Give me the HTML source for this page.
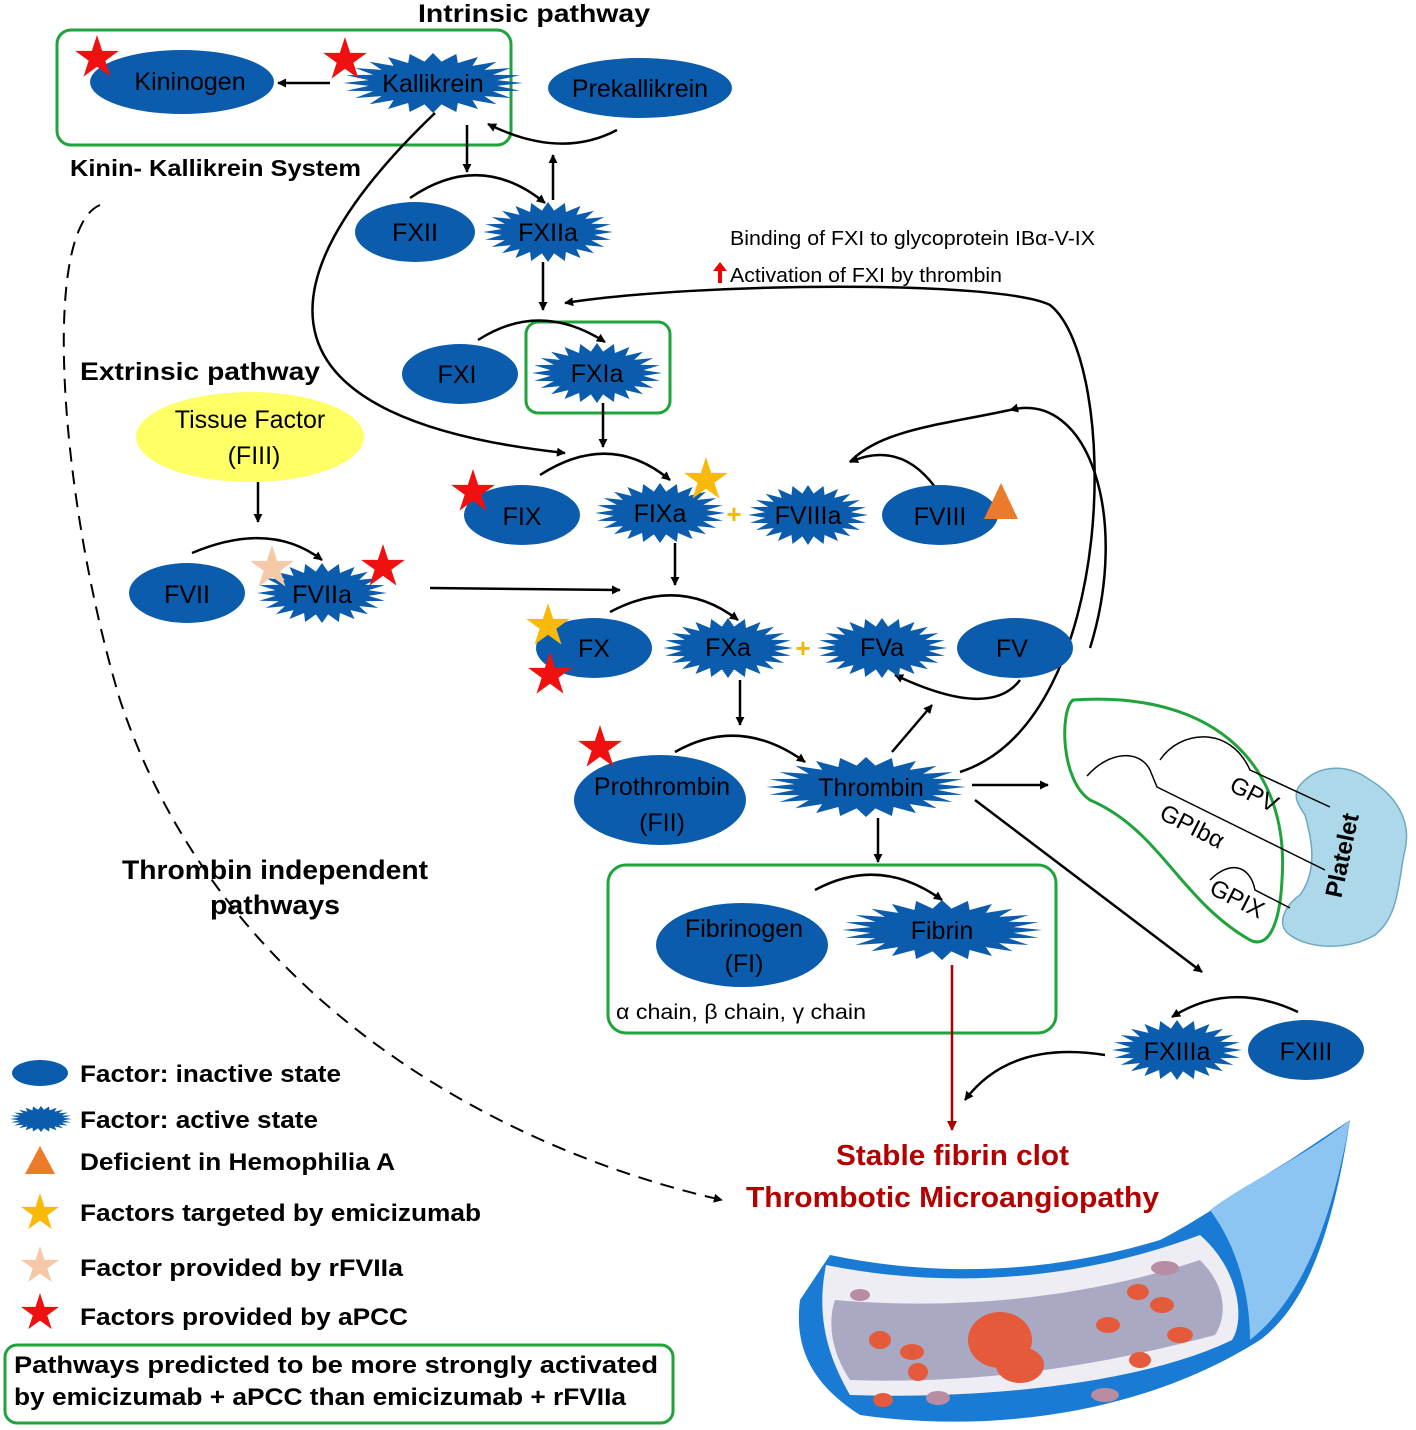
<!DOCTYPE html>
<html><head><meta charset="utf-8"><style>
body{margin:0;background:#fff}
svg{display:block}
text{font-family:"Liberation Sans",sans-serif}
.n{font-size:25px;fill:#000;text-anchor:middle}
.b{font-weight:bold}
</style></head><body>
<svg width="1416" height="1430" viewBox="0 0 1416 1430" xmlns="http://www.w3.org/2000/svg">
<defs>
<symbol id="burst" viewBox="-1 -1 2 2" preserveAspectRatio="none">
<polygon fill="#0b5cad" points="1,0 .714,.094 .966,.259 .665,.276 .866,.5 .571,.438 .707,.707 .438,.571 .5,.866 .276,.665 .259,.966 .094,.714 0,1 -.094,.714 -.259,.966 -.276,.665 -.5,.866 -.438,.571 -.707,.707 -.571,.438 -.866,.5 -.665,.276 -.966,.259 -.714,.094 -1,0 -.714,-.094 -.966,-.259 -.665,-.276 -.866,-.5 -.571,-.438 -.707,-.707 -.438,-.571 -.5,-.866 -.276,-.665 -.259,-.966 -.094,-.714 0,-1 .094,-.714 .259,-.966 .276,-.665 .5,-.866 .438,-.571 .707,-.707 .571,-.438 .866,-.5 .665,-.276 .966,-.259 .714,-.094"/>
</symbol>
<symbol id="star" viewBox="-1 -1 2 2">
<polygon points="0,-1 .225,-.309 .951,-.309 .363,.118 .588,.809 0,.382 -.588,.809 -.363,.118 -.951,-.309 -.225,-.309"/>
</symbol>
<marker id="ah" viewBox="0 0 10 10" refX="9" refY="5" markerWidth="9" markerHeight="9" orient="auto" markerUnits="userSpaceOnUse"><path d="M0,0 L10,5 L0,10 z" fill="#000"/></marker>
<marker id="ahr" viewBox="0 0 10 10" refX="9" refY="5" markerWidth="10" markerHeight="10" orient="auto" markerUnits="userSpaceOnUse"><path d="M0,0 L10,5 L0,10 z" fill="#a00"/></marker>
</defs>

<g fill="none" stroke="#1fa33a" stroke-width="3">
<rect x="57" y="30" width="454" height="115" rx="14"/>
<rect x="526" y="322" width="144" height="91" rx="12"/>
<rect x="608" y="865" width="448" height="168" rx="18"/>
<rect x="5" y="1345" width="668" height="78" rx="12"/>
</g>

<!-- blood vessel -->
<g>
<path d="M1350,1120 L1290,1160 C1240,1190 1200,1220 1160,1240 C1060,1270 950,1280 830,1255 L800,1300 C795,1340 805,1380 860,1415 C1000,1435 1150,1410 1260,1340 C1300,1310 1330,1250 1350,1120z" fill="#1a7bd4"/>
<path d="M1350,1120 C1300,1160 1250,1180 1210,1210 C1240,1250 1250,1300 1250,1340 C1300,1300 1330,1230 1350,1120z" fill="#8cc4f2"/>
<path d="M826,1265 C950,1290 1080,1280 1200,1235 C1240,1270 1245,1320 1232,1340 C1150,1380 1000,1400 850,1395 C830,1360 815,1320 826,1265z" fill="#ededf3"/>
<path d="M835,1300 C950,1310 1080,1300 1200,1260 C1230,1290 1225,1320 1215,1335 C1120,1360 1000,1385 850,1380 C830,1350 828,1320 835,1300z" fill="#a9a9c4"/>
<g fill="#e65a3c">
<ellipse cx="880" cy="1340" rx="11" ry="9"/><ellipse cx="912" cy="1352" rx="12" ry="8"/><ellipse cx="918" cy="1372" rx="10" ry="9"/>
<ellipse cx="883" cy="1400" rx="10" ry="7"/><ellipse cx="1108" cy="1325" rx="12" ry="8"/><ellipse cx="1138" cy="1292" rx="11" ry="8"/>
<ellipse cx="1162" cy="1305" rx="12" ry="8"/><ellipse cx="1180" cy="1335" rx="13" ry="8"/><ellipse cx="1140" cy="1360" rx="11" ry="8"/>
<ellipse cx="1000" cy="1340" rx="32" ry="28"/><ellipse cx="1020" cy="1365" rx="24" ry="18"/>
</g>
<g fill="#b88ca2"><ellipse cx="860" cy="1295" rx="10" ry="6"/><ellipse cx="1165" cy="1268" rx="14" ry="7"/><ellipse cx="938" cy="1398" rx="12" ry="7"/><ellipse cx="1105" cy="1395" rx="14" ry="7"/></g>
</g>

<!-- platelet -->
<path d="M1300,785 C1320,762 1350,765 1370,780 C1395,795 1412,820 1405,850 C1398,880 1400,915 1375,935 C1350,950 1310,950 1290,935 C1275,925 1285,905 1300,895 C1318,870 1312,840 1305,815 C1298,805 1292,795 1300,785z" fill="#acd8ea" stroke="#6fa8c0" stroke-width="1.5"/>
<text x="1350" y="857" font-size="24" font-weight="bold" text-anchor="middle" transform="rotate(-78 1350 857)">Platelet</text>
<path d="M1073,700 C1220,690 1290,770 1282,880 C1280,920 1270,950 1250,940 C1180,900 1160,830 1090,800 C1060,780 1060,710 1073,700z" fill="none" stroke="#1fa33a" stroke-width="3"/>
<g fill="none" stroke="#000" stroke-width="1.5">
<path d="M1087,776 C1110,750 1140,750 1150,770 L1157,787 L1325,870"/>
<path d="M1160,760 C1180,730 1230,725 1250,770 L1330,807"/>
<path d="M1210,880 C1230,860 1250,865 1255,890 L1290,908"/>
</g>
<text x="1228" y="790" font-size="24" transform="rotate(27 1228 790)">GPV</text>
<text x="1158" y="818" font-size="24" transform="rotate(27 1158 818)">GPIbα</text>
<text x="1208" y="893" font-size="24" transform="rotate(27 1208 893)">GPIX</text>

<g fill="none" stroke="#000" stroke-width="2.5" marker-end="url(#ah)">
<path d="M330,83 L278,83"/>
<path d="M617,130 Q560,160 488,124"/>
<path d="M467,125 L467,172"/>
<path d="M553,200 L553,155"/>
<path d="M410,198 Q480,150 545,203"/>
<path d="M543,262 L543,310"/>
<path d="M478,340 Q540,300 605,342"/>
<path d="M603,403 L603,447"/>
<path d="M435,113 C250,290 260,420 565,453"/>
<path d="M960,772 C1120,720 1120,360 1050,305 C1000,280 700,282 565,303"/>
<path d="M1090,648 C1130,520 1090,390 1010,410"/>
<path d="M935,487 Q900,440 850,462"/>
<path d="M540,475 Q610,430 670,480"/>
<path d="M675,543 L675,585"/>
<path d="M430,588 L620,590"/>
<path d="M258,482 L258,522"/>
<path d="M192,553 Q270,520 322,560"/>
<path d="M610,612 Q680,575 738,620"/>
<path d="M740,680 L740,725"/>
<path d="M1020,680 Q990,720 895,675"/>
<path d="M892,752 L932,705"/>
<path d="M675,752 Q740,715 805,762"/>
<path d="M878,818 L878,862"/>
<path d="M972,785 L1048,785"/>
<path d="M975,800 L1202,972"/>
<path d="M815,890 Q880,855 942,900"/>
<path d="M1298,1012 Q1230,980 1172,1017"/>
<path d="M1105,1055 Q1010,1040 965,1100"/>
<path d="M100,205 C40,230 60,500 120,700 C220,1000 500,1150 722,1200" stroke-width="2" stroke-dasharray="14,9"/>
</g>
<path d="M952,965 L952,1130" stroke="#a00" stroke-width="2.5" marker-end="url(#ahr)"/>
<path d="M1010,410 C940,425 880,430 850,462" fill="none" stroke="#000" stroke-width="2.5"/>

<g fill="#0b5cad">
<ellipse cx="182" cy="82" rx="92" ry="32"/>
<ellipse cx="640" cy="88" rx="92" ry="30"/>
<ellipse cx="415" cy="232" rx="60" ry="30"/>
<ellipse cx="460" cy="374" rx="58" ry="30"/>
<ellipse cx="522" cy="515" rx="58" ry="30"/>
<ellipse cx="940" cy="515" rx="58" ry="30"/>
<ellipse cx="187" cy="593" rx="58" ry="30"/>
<ellipse cx="594" cy="648" rx="58" ry="30"/>
<ellipse cx="1015" cy="648" rx="58" ry="30"/>
<ellipse cx="660" cy="800" rx="86" ry="45"/>
<ellipse cx="742" cy="945" rx="86" ry="42"/>
<ellipse cx="1306" cy="1050" rx="58" ry="30"/>
<ellipse cx="40" cy="1073" rx="28" ry="13"/>
</g>
<ellipse cx="250" cy="437" rx="114" ry="45" fill="#ffff66"/>

<use href="#burst" x="343" y="53" width="180" height="60"/>
<use href="#burst" x="483" y="202" width="130" height="60"/>
<use href="#burst" x="532" y="343" width="130" height="60"/>
<use href="#burst" x="595" y="483" width="130" height="60"/>
<use href="#burst" x="748" y="485" width="120" height="60"/>
<use href="#burst" x="257" y="563" width="130" height="60"/>
<use href="#burst" x="663" y="618" width="130" height="60"/>
<use href="#burst" x="817" y="618" width="130" height="60"/>
<use href="#burst" x="766" y="757" width="200" height="60"/>
<use href="#burst" x="842" y="900" width="200" height="60"/>
<use href="#burst" x="1112" y="1020" width="130" height="60"/>
<use href="#burst" x="10" y="1106" width="62" height="26"/>

<text class="n" x="190" y="90">Kininogen</text>
<text class="n" x="433" y="92">Kallikrein</text>
<text class="n" x="640" y="97">Prekallikrein</text>
<text class="n" x="415" y="241">FXII</text>
<text class="n" x="548" y="241">FXIIa</text>
<text class="n" x="457" y="383">FXI</text>
<text class="n" x="597" y="382">FXIa</text>
<text class="n" x="522" y="525">FIX</text>
<text class="n" x="660" y="522">FIXa</text>
<text class="n" x="808" y="524">FVIIIa</text>
<text class="n" x="940" y="525">FVIII</text>
<text class="n" x="187" y="603">FVII</text>
<text class="n" x="322" y="603">FVIIa</text>
<text class="n" x="594" y="657">FX</text>
<text class="n" x="728" y="656">FXa</text>
<text class="n" x="882" y="656">FVa</text>
<text class="n" x="1012" y="657">FV</text>
<text class="n" x="662" y="795">Prothrombin</text>
<text class="n" x="662" y="831">(FII)</text>
<text class="n" x="871" y="796">Thrombin</text>
<text class="n" x="744" y="937">Fibrinogen</text>
<text class="n" x="744" y="972">(FI)</text>
<text class="n" x="942" y="939">Fibrin</text>
<text class="n" x="1177" y="1060">FXIIIa</text>
<text class="n" x="1306" y="1060">FXIII</text>
<text class="n" x="250" y="428">Tissue Factor</text>
<text class="n" x="254" y="464">(FIII)</text>
<text x="734" y="523" font-size="26" font-weight="bold" fill="#f5b800" text-anchor="middle">+</text>
<text x="803" y="657" font-size="26" font-weight="bold" fill="#f5b800" text-anchor="middle">+</text>

<g fill="#f01010">
<use href="#star" x="74" y="35" width="46" height="46"/>
<use href="#star" x="322" y="37" width="46" height="46"/>
<use href="#star" x="450" y="469" width="46" height="46"/>
<use href="#star" x="577" y="725" width="46" height="46"/>
<use href="#star" x="527" y="652" width="46" height="46"/>
<use href="#star" x="360" y="544" width="46" height="46"/>
<use href="#star" x="20" y="1293" width="40" height="40"/>
</g>
<g fill="#f8b90a">
<use href="#star" x="683" y="457" width="46" height="46"/>
<use href="#star" x="525" y="603" width="46" height="46"/>
<use href="#star" x="20" y="1193" width="40" height="40"/>
</g>
<g fill="#f5c8a8">
<use href="#star" x="249" y="545" width="46" height="46"/>
<use href="#star" x="20" y="1246" width="40" height="40"/>
</g>
<polygon points="1001,483 1018,519 984,519" fill="#ec7a2b"/>
<polygon points="40,1146 55,1174 25,1174" fill="#ec7a2b"/>

<text x="418" y="22" font-size="25" class="b" textLength="232" lengthAdjust="spacingAndGlyphs">Intrinsic pathway</text>
<text x="70" y="176" font-size="23" class="b" textLength="291" lengthAdjust="spacingAndGlyphs">Kinin- Kallikrein System</text>
<text x="80" y="380" font-size="25" class="b" textLength="240" lengthAdjust="spacingAndGlyphs">Extrinsic pathway</text>
<text x="730" y="245" font-size="20" textLength="365" lengthAdjust="spacingAndGlyphs">Binding of FXI to glycoprotein IBα-V-IX</text>
<path d="M720,283 L720,270" stroke="#e00" stroke-width="4"/><polygon points="713,271 727,271 720,262" fill="#e00"/>
<text x="730" y="282" font-size="20" textLength="272" lengthAdjust="spacingAndGlyphs">Activation of FXI by thrombin</text>
<text x="122" y="879" font-size="27" class="b" textLength="306" lengthAdjust="spacingAndGlyphs">Thrombin independent</text>
<text x="210" y="914" font-size="27" class="b" textLength="130" lengthAdjust="spacingAndGlyphs">pathways</text>
<text x="616" y="1019" font-size="21" textLength="250" lengthAdjust="spacingAndGlyphs">α chain, β chain, γ chain</text>
<text x="836" y="1165" font-size="29" class="b" fill="#b30000" textLength="233" lengthAdjust="spacingAndGlyphs">Stable fibrin clot</text>
<text x="746" y="1207" font-size="29" class="b" fill="#b30000" textLength="413" lengthAdjust="spacingAndGlyphs">Thrombotic Microangiopathy</text>
<g font-size="24" font-weight="bold">
<text x="80" y="1082" textLength="261" lengthAdjust="spacingAndGlyphs">Factor: inactive state</text>
<text x="80" y="1128" textLength="238" lengthAdjust="spacingAndGlyphs">Factor: active state</text>
<text x="80" y="1170" textLength="315" lengthAdjust="spacingAndGlyphs">Deficient in Hemophilia A</text>
<text x="80" y="1221" textLength="401" lengthAdjust="spacingAndGlyphs">Factors targeted by emicizumab</text>
<text x="80" y="1276" textLength="323" lengthAdjust="spacingAndGlyphs">Factor provided  by rFVIIa</text>
<text x="80" y="1325" textLength="328" lengthAdjust="spacingAndGlyphs">Factors provided by aPCC</text>
<text x="14" y="1373" textLength="644" lengthAdjust="spacingAndGlyphs">Pathways predicted  to be more strongly activated</text>
<text x="14" y="1405" textLength="612" lengthAdjust="spacingAndGlyphs">by emicizumab + aPCC than emicizumab + rFVIIa</text>
</g>
</svg>
</body></html>
